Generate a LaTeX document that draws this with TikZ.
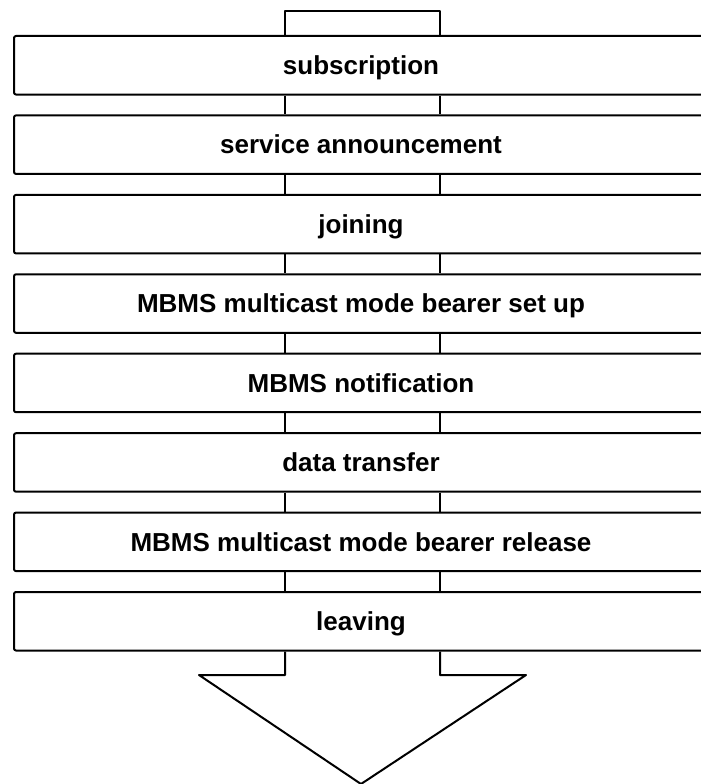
\documentclass[tikz,border=0pt]{standalone}
\usepackage{fontspec}
\setmainfont{Liberation Sans}
\begin{document}
\begin{tikzpicture}[x=1pt, y=-1pt,
  line width=2pt, line join=round,
  stage/.style={draw, rounded corners=2pt, anchor=north west,
    minimum width=694pt, minimum height=58.5pt, inner sep=0pt,
    text height=18.6pt, text depth=0pt,
    font=\fontsize{26}{30}\selectfont\bfseries}]
  \useasboundingbox (0,0) rectangle (701,784);
  \clip (0,0) rectangle (701,784);

  % positions of the two shaft edges
  \coordinate (sl) at (285,0);
  \coordinate (sr) at (440,0);

  % the phases, one box each
  \node[stage] (p1) at (13,35.0)  {subscription};
  \node[stage] (p2) at (13,114.4) {service announcement};
  \node[stage] (p3) at (13,193.9) {joining};
  \node[stage] (p4) at (13,273.3) {MBMS multicast mode bearer set up};
  \node[stage] (p5) at (13,352.7) {MBMS notification};
  \node[stage] (p6) at (13,432.2) {data transfer};
  \node[stage] (p7) at (13,511.6) {MBMS multicast mode bearer release};
  \node[stage] (p8) at (13,591.0) {leaving};

  % tail of the arrow above the first box
  \coordinate (cap) at (0,11);
  \draw (p1.north -| sl) -- (cap -| sl) -- (cap -| sr) -- (p1.north -| sr);

  % shaft pieces between consecutive boxes
  \foreach \a/\b in {p1/p2,p2/p3,p3/p4,p4/p5,p5/p6,p6/p7,p7/p8} {
    \draw (\a.south -| sl) -- (\b.north -| sl);
    \draw (\a.south -| sr) -- (\b.north -| sr);
  }

  % arrow head below the last box
  \coordinate (base) at (0,675);
  \coordinate (hl) at (199,675);
  \coordinate (hr) at (526,675);
  \coordinate (tip) at (361,784);
  \draw (p8.south -| sl) -- (base -| sl) -- (hl) -- (tip) -- (hr)
        -- (base -| sr) -- (p8.south -| sr);
\end{tikzpicture}
\end{document}
